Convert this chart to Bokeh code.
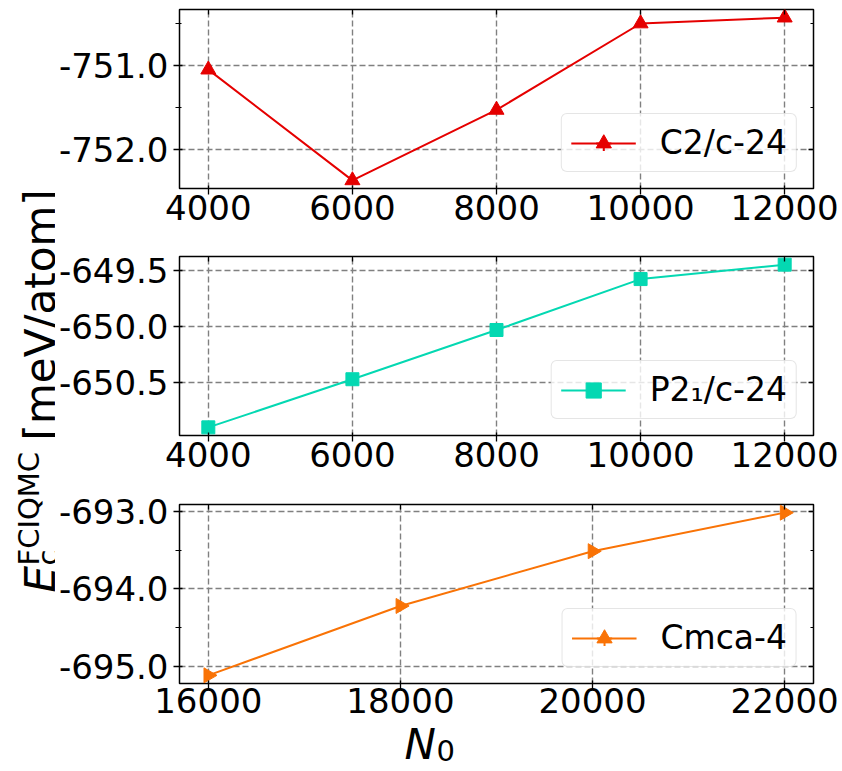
import math
from bokeh.plotting import figure
from bokeh.models import (Range1d, FixedTicker, PrintfTickFormatter, LinearAxis,
                          Legend, LegendItem, Label)
from bokeh.layouts import row, column
from bokeh.embed import file_html
from bokeh.resources import INLINE

# ---------------- data ----------------
n0_c2c = [4000, 6000, 8000, 10000, 12000]
e_c2c = [-751.05, -752.37, -751.53, -750.50, -750.43]

n0_p21c = [4000, 6000, 8000, 10000, 12000]
e_p21c = [-650.90, -650.47, -650.03, -649.575, -649.446]

n0_cmca = [16000, 18000, 20000, 22000]
e_cmca = [-695.12, -694.22, -693.51, -693.01]

series_labels = ["C2/c-24", "P2\u2081/c-24", "Cmca-4"]
series_colors = ["#e50000", "#04d8b2", "#f97306"]

x_ticks_top = [4000, 6000, 8000, 10000, 12000]
x_ticks_bottom = [16000, 18000, 20000, 22000]
y_ticks_c2c = [-752.0, -751.0]
y_minor_c2c = [-751.5, -750.5]
y_ticks_p21c = [-650.5, -650.0, -649.5]
y_minor_p21c = []
y_ticks_cmca = [-695.0, -694.0, -693.0]
y_minor_cmca = [-694.5, -693.5]

FONT = "DejaVu Sans"
TICK_FS = "34px"
LEG_FS = "33px"
LAB_FS = "42px"
SUB_FS = "29px"
PANEL_W = 787


def padded(vals, frac=0.05):
    lo, hi = min(vals), max(vals)
    d = (hi - lo) * frac
    return Range1d(lo - d, hi + d)


def panel(x, y, xt, yt, ymin, label, color, marker, msize, angle,
          height, top_border, bottom_border, x_standoff=0):
    p = figure(width=PANEL_W, height=height, output_backend="svg",
               toolbar_location=None,
               x_range=padded(x), y_range=padded(y),
               min_border_left=117, min_border_right=29,
               min_border_top=top_border, min_border_bottom=bottom_border)
    p.background_fill_color = "white"
    p.border_fill_color = "white"
    p.outline_line_color = "black"
    p.outline_line_width = 1.5

    xtick = FixedTicker(ticks=xt, minor_ticks=[])
    ytick = FixedTicker(ticks=yt, minor_ticks=ymin)

    for ax in p.xaxis:
        ax.ticker = xtick
        ax.formatter = PrintfTickFormatter(format="%d")
        ax.major_label_standoff = x_standoff
    for ax in p.yaxis:
        ax.ticker = ytick
        ax.formatter = PrintfTickFormatter(format="%.1f")
        ax.major_label_standoff = 5
    for ax in p.xaxis + p.yaxis:
        ax.axis_line_color = None
        ax.major_tick_in = 3
        ax.major_tick_out = 6
        ax.minor_tick_in = 2
        ax.minor_tick_out = 4
        ax.major_tick_line_width = 1.3
        ax.minor_tick_line_width = 1.2
        ax.major_label_text_font = FONT
        ax.major_label_text_font_size = TICK_FS
        ax.major_label_text_color = "black"

    # mirrored tick marks on the top and right (no labels drawn)
    for loc, tk in (("above", xtick), ("right", ytick)):
        ax = LinearAxis(ticker=tk, axis_line_color=None,
                        major_tick_in=5, major_tick_out=0,
                        minor_tick_in=3, minor_tick_out=0,
                        major_tick_line_width=1.3, minor_tick_line_width=1.2,
                        major_label_standoff=0,
                        major_label_text_font_size="1px",
                        major_label_text_color=None)
        p.add_layout(ax, loc)

    p.xgrid.ticker = xtick
    p.ygrid.ticker = ytick
    for g in (p.xgrid, p.ygrid):
        g.grid_line_color = "#808080"
        g.grid_line_width = 1.4
        g.grid_line_dash = "6 3"

    angles = [angle] * len(x)
    ln = p.line(x, y, line_color=color, line_width=2)
    eb = p.scatter(x, y, marker="cross", size=0,
                   line_color=color, line_width=2)
    mk = p.scatter(x=x, y=y, marker=marker, angle=angles, size=msize,
                   fill_color=color, line_color=color)

    leg = Legend(items=[LegendItem(label=label, renderers=[ln, eb, mk],
                                   index=0)],
                 location="bottom_right", margin=16, padding=9,
                 glyph_width=65, glyph_height=38, label_standoff=24,
                 spacing=0,
                 label_text_font=FONT, label_text_font_size=LEG_FS,
                 label_text_color="black",
                 border_line_color="#cccccc", border_line_width=1.5,
                 background_fill_color="white", background_fill_alpha=0.8)
    if "border_radius" in Legend.properties():
        leg.border_radius = 6
    p.add_layout(leg)
    return p


p1 = panel(n0_c2c, e_c2c, x_ticks_top, y_ticks_c2c, y_minor_c2c,
           series_labels[0], series_colors[0], "triangle", 15, 0.0,
           238, 9, 50)
p2 = panel(n0_p21c, e_p21c, x_ticks_top, y_ticks_p21c, y_minor_p21c,
           series_labels[1], series_colors[1], "square", 13, 0.0,
           247, 18, 50)
p3 = panel(n0_cmca, e_cmca, x_ticks_bottom, y_ticks_cmca, y_minor_cmca,
           series_labels[2], series_colors[2], "triangle", 15, -math.pi / 2,
           242, 19, 44, x_standoff=-2)


def blank(width, height):
    f = figure(width=width, height=height, output_backend="svg",
               toolbar_location=None, title=None,
               x_range=Range1d(0, 1), y_range=Range1d(0, 1),
               x_axis_location=None, y_axis_location=None, min_border=0)
    f.grid.visible = False
    f.outline_line_color = None
    f.background_fill_color = "white"
    f.border_fill_color = "white"
    return f


# x-axis label  N_0  (full-width strip under everything)
xf = blank(842, 44)
xf.add_layout(Label(x=404, y=27, x_units="screen", y_units="screen",
                    text="N", text_font=FONT, text_font_style="italic",
                    text_font_size=LAB_FS, text_baseline="alphabetic",
                    text_align="left", text_color="black"))
xf.add_layout(Label(x=436, y=21, x_units="screen", y_units="screen",
                    text="0", text_font=FONT,
                    text_font_size=SUB_FS, text_baseline="alphabetic",
                    text_align="left", text_color="black"))

# shared y-axis label in a narrow figure on the left
LF_H = 727
lf = blank(55, LF_H)
base_x = 40
base_y = LF_H - 592
rot = math.pi / 2
lf.add_layout(Label(x=base_x, y=base_y, x_units="screen", y_units="screen",
                    text="E", angle=rot, text_font=FONT,
                    text_font_style="italic", text_font_size=LAB_FS,
                    text_baseline="alphabetic", text_align="left",
                    text_color="black"))
lf.add_layout(Label(x=base_x + 7, y=base_y + 27, x_units="screen",
                    y_units="screen", text="c", angle=rot, text_font=FONT,
                    text_font_size=SUB_FS, text_baseline="alphabetic",
                    text_align="left", text_color="black"))
lf.add_layout(Label(x=base_x - 12, y=base_y + 27, x_units="screen",
                    y_units="screen", text="FCIQMC", angle=rot,
                    text_font=FONT, text_font_size=SUB_FS,
                    text_baseline="alphabetic", text_align="left",
                    text_color="black"))
lf.add_layout(Label(x=base_x, y=base_y + 152, x_units="screen",
                    y_units="screen", text="[meV/atom]", angle=rot,
                    text_font=FONT, text_font_size=LAB_FS,
                    text_baseline="alphabetic", text_align="left",
                    text_color="black"))

layout = column(row(lf, column(p1, p2, p3)), xf)

with open("out.html", "w") as f:
    f.write(file_html(layout, INLINE))
